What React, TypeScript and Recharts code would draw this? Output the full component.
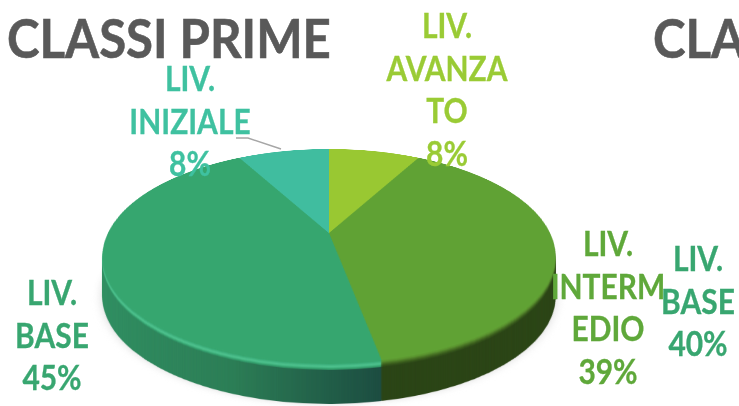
import { PieChart, Pie, Cell } from 'recharts'

const levels = ['LIV. AVANZATO', 'LIV. INTERMEDIO', 'LIV. BASE', 'LIV. INIZIALE']
const shares = [8, 39, 45, 8]

const topColors = ['#99c832', '#60a234', '#36a66f', '#40bd9f']
const sideColors = ['#99c832', '#2a4415', 'url(#sideGreen)', '#40bd9f']
const shadowColors = ['#d4d4d4', '#d4d4d4', '#d4d4d4', '#d4d4d4']

const sideOffsets = [41, 40, 39, 38, 37, 36, 35, 34, 33, 32, 31, 30, 29, 28, 27, 26, 25, 24, 23, 22, 21, 20, 19, 18, 17, 16, 15, 14, 13, 12, 11, 10, 9, 8]
const lipOffsets = [7, 6, 5, 4, 3, 2, 1]
const lipGreens = ['#2f9164', '#38a672', '#45b884', '#4cc08c', '#45b884', '#3bae7a', '#36a66f']
const lipDarks = ['#2f4c18', '#35561a', '#3e631e', '#477224', '#508229', '#59922e', '#5d9a31']

const chartData = levels.map((name, i) => ({ name, value: shares[i] }))

const labels = [
  { lines: ['LIV.', 'AVANZA', 'TO', '8%'], color: '#9acb35', x: 447, y: 4 },
  { lines: ['LIV.', 'INIZIALE', '8%'], color: '#3fc1a0', x: 190, y: 57 },
  { lines: ['LIV.', 'BASE', '45%'], color: '#38a670', x: 52, y: 271 },
  { lines: ['LIV.', 'INTERM', 'EDIO', '39%'], color: '#5fa83a', x: 608, y: 222 },
  { lines: ['LIV.', 'BASE', '40%'], color: '#38a670', x: 698, y: 237 },
]

const SIZE = 500
const RADIUS = 221

function Disc({ fills, offset = 0, blur = 0 }: { fills: string[]; offset?: number; blur?: number }) {
  return (
    <div
      style={{
        position: 'absolute',
        left: 78.5,
        top: -17 + offset,
        width: SIZE,
        height: SIZE,
        transform: 'perspective(912px) rotateX(62.5deg)',
        filter: blur ? `blur(${blur}px)` : undefined,
      }}
    >
      <PieChart width={SIZE} height={SIZE} margin={{ top: 0, right: 0, bottom: 0, left: 0 }}>
        <Pie
          data={chartData}
          dataKey="value"
          cx={SIZE / 2}
          cy={SIZE / 2}
          outerRadius={RADIUS}
          startAngle={90}
          endAngle={-270}
          stroke="none"
          isAnimationActive={false}
        >
          {fills.map((fill, i) => (
            <Cell key={i} fill={fill} />
          ))}
        </Pie>
      </PieChart>
    </div>
  )
}

const titleStyle = {
  position: 'absolute',
  top: 8,
  fontSize: 54,
  lineHeight: '60px',
  color: '#595959',
  whiteSpace: 'nowrap',
  transformOrigin: 'left center',
  transform: 'scaleX(0.91)',
  WebkitTextStroke: '0.6px #595959',
} as const

export default function App() {
  return (
    <div
      style={{
        position: 'absolute',
        left: 0,
        top: 0,
        width: 739,
        height: 406,
        overflow: 'hidden',
        background: '#fff',
        fontFamily: 'Lato, sans-serif',
        fontWeight: 700,
      }}
    >
      <svg width={0} height={0} style={{ position: 'absolute' }}>
        <defs>
          <linearGradient id="sideGreen" x1="0" y1="0" x2="1" y2="0">
            <stop offset="0%" stopColor="#2f9062" />
            <stop offset="55%" stopColor="#2b7d55" />
            <stop offset="100%" stopColor="#1b4c40" />
          </linearGradient>
        </defs>
      </svg>

      <Disc fills={shadowColors} offset={40} blur={5} />
      {sideOffsets.map(offset => (
        <Disc key={offset} fills={sideColors} offset={offset} />
      ))}
      {lipOffsets.map((offset, i) => (
        <Disc key={offset} fills={['#99c832', lipDarks[i], lipGreens[i], '#40bd9f']} offset={offset} />
      ))}
      <Disc fills={topColors} />

      <svg width={739} height={406} style={{ position: 'absolute', left: 0, top: 0 }}>
        <polyline points="236,138 248,138 281,149" fill="none" stroke="#a6a6a6" strokeWidth={1.5} />
      </svg>

      <div style={{ ...titleStyle, left: 7 }}>CLASSI PRIME</div>
      <div style={{ ...titleStyle, left: 653 }}>CLA</div>

      {labels.map(label => (
        <div
          key={label.x}
          style={{
            position: 'absolute',
            left: label.x - 80,
            top: label.y,
            width: 160,
            textAlign: 'center',
            fontSize: 34,
            lineHeight: '42.7px',
            color: label.color,
            transform: 'scaleX(0.88)',
            WebkitTextStroke: `0.3px ${label.color}`,
          }}
        >
          {label.lines.map((line, i) => (
            <div key={i}>{line}</div>
          ))}
        </div>
      ))}
    </div>
  )
}
